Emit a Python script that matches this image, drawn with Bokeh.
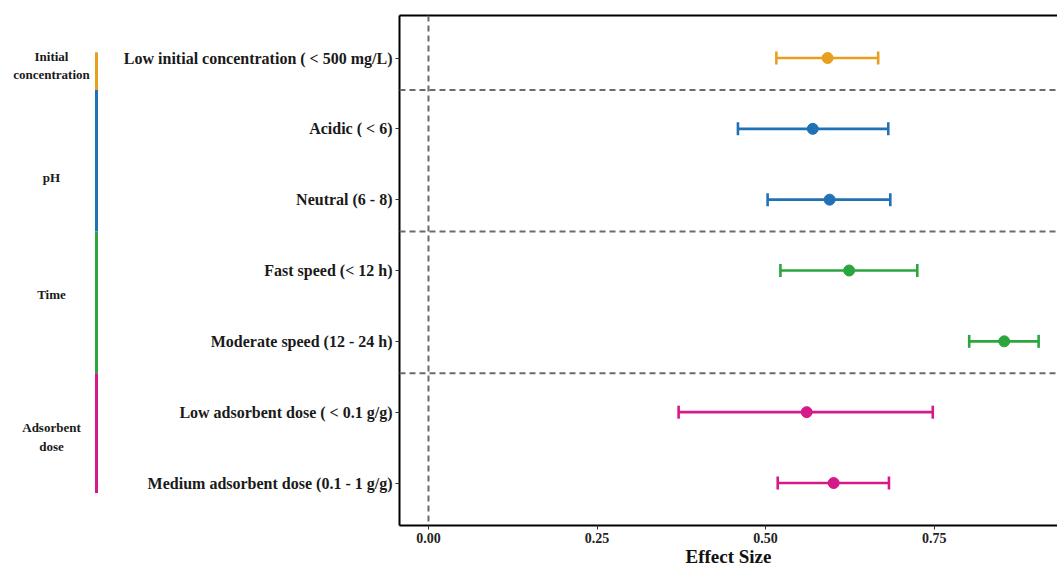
from bokeh.plotting import figure
from bokeh.layouts import row
from bokeh.models import Range1d, FixedTicker, LinearAxis, ColumnDataSource, Span
from bokeh.core.properties import value
from bokeh.embed import file_html
from bokeh.resources import INLINE

# ---------------- data ----------------
row_labels = [
    "Low initial concentration ( < 500 mg/L)",
    "Acidic ( < 6)",
    "Neutral (6 - 8)",
    "Fast speed (< 12 h)",
    "Moderate speed (12 - 24 h)",
    "Low adsorbent dose ( < 0.1 g/g)",
    "Medium adsorbent dose (0.1 - 1 g/g)",
]
estimate = [0.592, 0.570, 0.595, 0.624, 0.854, 0.561, 0.601]
ci_low = [0.516, 0.459, 0.503, 0.522, 0.802, 0.371, 0.518]
ci_high = [0.667, 0.682, 0.685, 0.725, 0.905, 0.748, 0.683]
row_group = ["Initial concentration", "pH", "pH", "Time", "Time",
             "Adsorbent dose", "Adsorbent dose"]

group_names = ["Initial concentration", "pH", "Time", "Adsorbent dose"]
group_titles = ["Initial\nconcentration", "pH", "Time", "Adsorbent\ndose"]
group_colors = ["#E89F1E", "#2171B5", "#2CA53F", "#D6198A"]
x_ticks = [0.0, 0.25, 0.50, 0.75]

FONT = "Liberation Serif"
color_of = dict(zip(group_names, group_colors))
row_colors = [color_of[g] for g in row_group]
ypos = list(range(len(row_labels)))

# group extents in row units
g_start, g_end = [], []
for g in group_names:
    idx = [i for i, rg in enumerate(row_group) if rg == g]
    g_start.append(min(idx) - 0.5)
    g_end.append(max(idx) + 0.5)
sep_pos = [e - 0.05 for e in g_end[:-1]]

yr = Range1d(len(row_labels) - 0.4, -0.6)
H = 569
TOP = 15
BOTTOM = 44
LEFT_W = 120

# ---------------- main panel ----------------
p = figure(width=1057 - LEFT_W, height=H, x_range=Range1d(-0.043, 0.933),
           y_range=yr, output_backend="svg", toolbar_location=None,
           min_border_top=TOP, min_border_bottom=BOTTOM, min_border_right=0,
           min_border_left=0)
p.outline_line_color = None
p.xgrid.visible = False
p.ygrid.visible = False
p.background_fill_color = "white"

# reference lines
p.add_layout(Span(location=0, dimension="height", line_color="#6b6b6b",
                  line_width=2, line_dash="6 4"))
for s in sep_pos:
    p.add_layout(Span(location=s, dimension="width", line_color="#6b6b6b",
                      line_width=2, line_dash="6 4"))

src = ColumnDataSource(dict(y=ypos, est=estimate, lo=ci_low, hi=ci_high,
                            color=row_colors))
p.segment(x0="lo", y0="y", x1="hi", y1="y", line_color="color",
          line_width=2.6, source=src)
p.scatter(x="lo", y="y", marker="dash", angle=1.5708, size=13,
          line_color="color", line_width=2.6, source=src)
p.scatter(x="hi", y="y", marker="dash", angle=1.5708, size=13,
          line_color="color", line_width=2.6, source=src)
p.scatter(x="est", y="y", marker="circle", size=11, fill_color="color",
          line_color="color", source=src)

xa = p.xaxis[0]
xa.ticker = FixedTicker(ticks=x_ticks)
xa.major_label_overrides = {t: f"{t:.2f}" for t in x_ticks}
xa.axis_label = "Effect Size"
xa.axis_label_text_font = FONT
xa.axis_label_text_font_style = "bold"
xa.axis_label_text_font_size = "19px"
xa.axis_label_text_color = "#111111"
xa.axis_label_standoff = 0
xa.major_label_text_font = FONT
xa.major_label_text_font_style = "bold"
xa.major_label_text_font_size = "14px"
xa.major_label_text_color = "#222222"
xa.major_label_standoff = 3
xa.axis_line_width = 2
xa.axis_line_color = "black"
xa.major_tick_out = 4
xa.major_tick_in = 0
xa.major_tick_line_color = "#333333"
xa.minor_tick_line_color = None

ya = p.yaxis[0]
ya.ticker = FixedTicker(ticks=ypos)
ya.major_label_overrides = {i: lab for i, lab in zip(ypos, row_labels)}
ya.major_label_text_font = FONT
ya.major_label_text_font_style = "bold"
ya.major_label_text_font_size = "16px"
ya.major_label_text_color = "#1a1a1a"
ya.major_label_standoff = 3
ya.axis_line_width = 2
ya.axis_line_color = "black"
ya.major_tick_out = 4
ya.major_tick_in = 0
ya.major_tick_line_color = "#333333"
ya.minor_tick_line_color = None

top_axis = LinearAxis(ticker=FixedTicker(ticks=[]), axis_line_width=2,
                      axis_line_color="black", major_tick_line_color=None,
                      minor_tick_line_color=None,
                      major_label_text_font_size="0px")
p.add_layout(top_axis, "above")

# ---------------- left group panel ----------------
q = figure(width=LEFT_W, height=H, x_range=Range1d(0, 1), y_range=yr,
           output_backend="svg", toolbar_location=None,
           min_border_top=TOP, min_border_bottom=BOTTOM, min_border_left=0,
           min_border_right=0)
q.outline_line_color = None
q.axis.visible = False
q.xgrid.visible = False
q.ygrid.visible = False

bar_start = list(g_start)
bar_end = list(g_end)
bar_start[0] = -0.08
bar_start[1:] = sep_pos
bar_end[:-1] = sep_pos
bar_end[-1] = len(row_labels) - 1 + 0.14
q.segment(x0=[0.80] * len(group_names), y0=bar_start,
          x1=[0.80] * len(group_names), y1=bar_end,
          line_color=group_colors, line_width=3)

label_y = [0.106, 1.69, 3.34, 5.35]
q.text(x=[0.425] * len(group_titles), y=label_y, text=group_titles,
       text_font=value(FONT), text_font_style="bold", text_font_size="13px",
       text_align="center", text_baseline="middle", text_line_height=1.25,
       text_color="#1a1a1a")

layout = row(q, p)
open("out.html", "w").write(file_html(layout, INLINE))
